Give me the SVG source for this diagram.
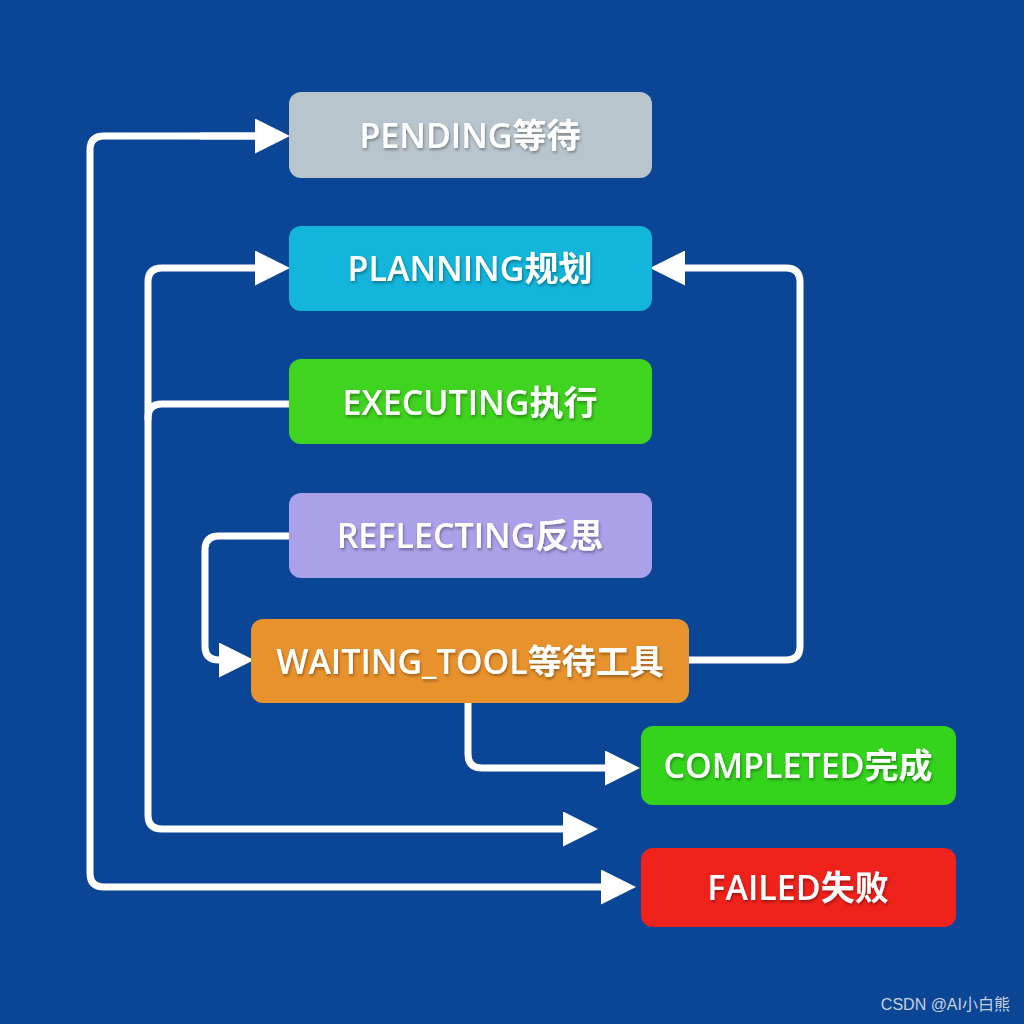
<svg xmlns="http://www.w3.org/2000/svg" width="1024" height="1024" viewBox="0 0 1024 1024">
<defs>
<marker id="ah" viewBox="0 0 10 10" refX="2" refY="5" markerWidth="5" markerHeight="5" markerUnits="strokeWidth" orient="auto"><path d="M0,0 L10,5 L0,10 z" fill="#fff"/></marker>
<filter id="sh"><feDropShadow dx="1" dy="2" stdDeviation="1.5" flood-color="#000" flood-opacity="0.35"/></filter>
</defs>
<style>
.c{fill:none;stroke:#fff;stroke-width:7;stroke-linejoin:round}
.t{font-family:"Open Sans","Noto Sans CJK SC",sans-serif;font-weight:600;font-size:34px;fill:#fff;text-anchor:middle;dominant-baseline:central;filter:url(#sh)}
</style>
<rect width="1024" height="1024" fill="#0b4696"/>
<g id="connectors">
<path class="c" d="M264,136 H104 Q90,136 90,150 V873 Q90,887 104,887 H608" marker-end="url(#ah)"/>
<path class="c" d="M200,136 H262" marker-end="url(#ah)"/>
<path class="c" d="M289,404 H162 Q148,404 148,418 V815 Q148,829 162,829 H570" marker-end="url(#ah)"/>
<path class="c" d="M148,420 V282 Q148,268 162,268 H262" marker-end="url(#ah)"/>
<path class="c" d="M289,536 H219 Q205,536 205,550 V646 Q205,660 219,660 H226" marker-end="url(#ah)"/>
<path class="c" d="M689,660 H786 Q800,660 800,646 V282 Q800,268 786,268 H678" marker-end="url(#ah)"/>
<path class="c" d="M468,703 V754 Q468,768 482,768 H612" marker-end="url(#ah)"/>
</g>
<g id="pending"><rect x="289" y="92" width="363" height="86" rx="12" fill="#b9c5cd"/><text class="t" x="470" y="135">PENDING等待</text></g>
<g id="planning"><rect x="289" y="226" width="363" height="85" rx="12" fill="#13b5da"/><text class="t" x="470" y="268">PLANNING规划</text></g>
<g id="executing"><rect x="289" y="359" width="363" height="85" rx="12" fill="#3fd41f"/><text class="t" x="470" y="402">EXECUTING执行</text></g>
<g id="reflecting"><rect x="289" y="493" width="363" height="85" rx="12" fill="#aaa1e8"/><text class="t" x="470" y="535">REFLECTING反思</text></g>
<g id="waiting"><rect x="251" y="619" width="438" height="84" rx="12" fill="#e8922d"/><text class="t" x="470" y="661">WAITING_TOOL等待工具</text></g>
<g id="completed"><rect x="641" y="726" width="315" height="79" rx="12" fill="#34d41c"/><text class="t" x="798" y="765">COMPLETED完成</text></g>
<g id="failed"><rect x="641" y="848" width="315" height="79" rx="12" fill="#f0221c"/><text class="t" x="798" y="887">FAILED失败</text></g>
<text x="1010" y="1010" font-family="'Liberation Sans','Noto Sans CJK SC',sans-serif" font-size="16" fill="#c8d0dc" text-anchor="end">CSDN @AI小白熊</text>
</svg>
